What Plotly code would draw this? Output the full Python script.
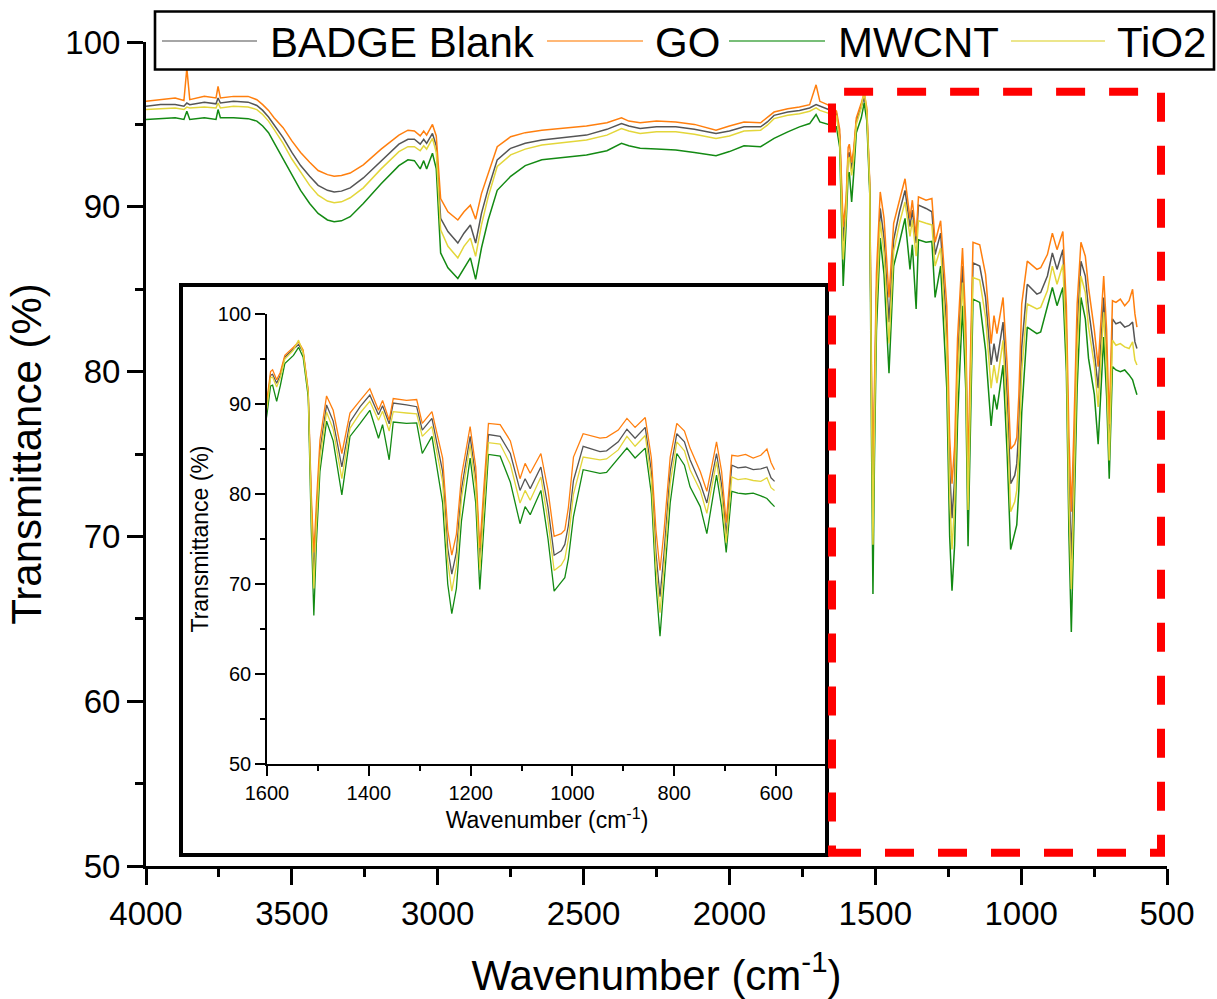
import plotly.graph_objects as go

# ---------------- data ----------------
wavenumber = [4000, 3950, 3900, 3870, 3860, 3850, 3800, 3760, 3753, 3745, 3700, 3650, 3620, 3600,
              3580, 3561, 3530, 3500, 3470, 3439, 3410, 3378, 3355, 3330, 3300, 3255, 3194, 3133,
              3102, 3080, 3060, 3048, 3038, 3018, 3005, 2990, 2965, 2931, 2910, 2888, 2870, 2850,
              2827, 2796, 2750, 2700, 2643, 2550, 2490, 2420, 2370, 2345, 2306, 2250, 2184, 2120,
              2046, 2000, 1950, 1893, 1870, 1847, 1800, 1760, 1725, 1703, 1690, 1664, 1645, 1633,
              1622, 1610, 1600, 1593, 1589, 1581, 1574, 1565, 1548, 1538, 1529, 1519, 1513, 1508,
              1503, 1496, 1483, 1470, 1453, 1437, 1417, 1398, 1381, 1373, 1360, 1352, 1326, 1306,
              1295, 1276, 1255, 1245, 1237, 1228, 1218, 1201, 1190, 1182, 1175, 1165, 1142, 1122,
              1103, 1093, 1083, 1062, 1048, 1036, 1022, 1015, 1008, 998, 979, 946, 933, 910, 893,
              877, 857, 845, 836, 828, 820, 808, 795, 780, 769, 749, 736, 725, 717, 707, 698, 687,
              675, 660, 645, 630, 618, 610, 603]

badge_blank = [96.1, 96.2, 96.2, 96.1, 96.3, 96.2, 96.35, 96.25, 96.6, 96.3, 96.4, 96.35, 96.15, 95.85,
               95.45, 95.0, 94.2, 93.3, 92.5, 91.85, 91.3, 91.0, 90.9, 90.95, 91.15, 91.75, 92.8, 93.8,
               94.1, 94.1, 93.8, 94.1, 93.85, 94.45, 93.7, 89.3, 88.5, 87.8, 88.4, 88.9, 87.8, 89.6,
               91.1, 92.85, 93.55, 93.85, 94.05, 94.25, 94.35, 94.7, 95.05, 94.9, 94.75, 94.85, 94.85, 94.7,
               94.45, 94.6, 94.85, 94.85, 95.15, 95.55, 95.75, 95.85, 96.0, 96.2, 96.1, 95.9, 95.8, 95.65,
               94.3, 87.9, 90.0, 93.2, 93.3, 92.3, 93.2, 95.2, 96.1, 96.6, 95.8, 91.3, 79.0, 71.0,
               77.5, 84.8, 89.9, 88.1, 83.0, 88.0, 89.7, 91.0, 88.8, 89.8, 87.8, 90.1, 89.9, 89.7,
               87.1, 88.4, 82.5, 74.0, 71.1, 73.5, 80.5, 86.4, 81.8, 72.8, 78.5, 86.6, 86.4, 84.5,
               80.4, 81.7, 80.6, 83.0, 78.5, 73.2, 73.7, 74.4, 76.5, 81.5, 85.3, 84.7, 84.8, 85.8, 87.2,
               86.2, 87.4, 82.5, 73.5, 68.6, 73.5, 82.5, 86.7, 85.8, 83.8, 81.2, 79.0, 82.0, 84.5, 81.0, 75.5, 83.2,
               82.9, 83.0, 82.7, 82.8, 83.0, 81.8, 81.4]

go_ = [96.4, 96.5, 96.6, 96.45, 98.4, 96.5, 96.7, 96.6, 97.3, 96.6, 96.7, 96.7, 96.5, 96.2,
       95.85, 95.4, 94.8, 94.0, 93.3, 92.7, 92.2, 91.95, 91.85, 91.9, 92.05, 92.55, 93.5, 94.35,
       94.65, 94.6, 94.3, 94.6, 94.35, 95.0, 94.3, 90.5, 89.7, 89.2, 89.7, 90.1, 89.25, 90.8,
       92.0, 93.65, 94.25, 94.5, 94.65, 94.8, 94.9, 95.1, 95.4, 95.2, 95.1, 95.2, 95.15, 95.0,
       94.65, 94.9, 95.15, 95.1, 95.4, 95.75, 95.95, 96.05, 96.2, 97.4, 96.4, 96.2, 96.0, 95.8,
       94.7, 88.8, 90.5, 93.6, 93.8, 92.7, 93.5, 95.4, 96.3, 96.9, 96.0, 91.5, 80.0, 73.5,
       79.0, 86.0, 90.9, 89.3, 84.5, 89.0, 90.4, 91.7, 89.3, 90.4, 88.2, 90.6, 90.4, 90.5,
       87.85, 89.15, 84.0, 76.0, 73.2, 75.5, 82.0, 87.5, 83.0, 74.0, 80.0, 87.85, 87.7, 85.9,
       81.7, 83.4, 82.3, 84.5, 80.4, 75.3, 75.6, 76.0, 78.5, 84.1, 86.7, 86.2, 86.3, 87.1, 88.4,
       87.4, 88.5, 84.0, 76.0, 71.5, 76.0, 84.1, 87.85, 87.0, 85.1, 82.5, 80.3, 83.5, 85.8, 82.5, 76.8, 84.3,
       84.2, 84.4, 84.0, 84.3, 85.0, 83.5, 82.7]

mwcnt = [95.3, 95.35, 95.4, 95.3, 95.8, 95.3, 95.4, 95.3, 95.9, 95.4, 95.4, 95.35, 95.2, 94.9,
         94.5, 93.9, 92.9, 91.9, 91.0, 90.2, 89.6, 89.2, 89.1, 89.15, 89.4, 90.2, 91.4, 92.5,
         92.85, 92.8, 92.3, 92.8, 92.3, 93.25, 92.3, 87.2, 86.3, 85.65, 86.3, 86.9, 85.6, 87.5,
         89.2, 91.0, 91.85, 92.5, 92.85, 93.05, 93.15, 93.4, 93.85, 93.7, 93.55, 93.5, 93.45, 93.3,
         93.1, 93.35, 93.7, 93.65, 93.9, 94.15, 94.55, 94.85, 95.05, 95.6, 95.15, 95.0, 94.9, 94.85,
         93.6, 85.2, 88.9, 92.0, 92.1, 90.3, 92.0, 94.5, 95.4, 96.3, 95.2, 90.8, 76.0, 66.5,
         74.5, 82.5, 88.1, 85.9, 79.9, 86.4, 87.85, 89.3, 86.2, 87.7, 83.8, 88.0, 87.85, 87.9,
         84.5, 86.4, 79.0, 70.0, 66.7, 69.5, 77.0, 84.0, 79.0, 69.4, 75.5, 84.4, 84.2, 81.3,
         76.7, 78.6, 77.7, 80.4, 75.0, 69.2, 70.2, 70.7, 72.8, 77.5, 82.7, 82.3, 82.4, 84.0, 85.1,
         84.0, 85.1, 80.0, 70.0, 64.2, 70.0, 79.0, 84.5, 83.2, 80.8, 78.6, 75.6, 79.5, 82.1, 78.5, 73.5, 80.3,
         80.1, 80.0, 80.1, 79.8, 79.5, 79.0, 78.6]

tio2 = [95.9, 95.95, 96.0, 95.9, 96.05, 96.0, 96.05, 96.0, 96.3, 96.0, 96.1, 96.05, 95.9, 95.6,
        95.2, 94.7, 93.85, 92.9, 92.1, 91.3, 90.7, 90.35, 90.25, 90.3, 90.55, 91.15, 92.3, 93.35,
        93.65, 93.65, 93.4, 93.7, 93.5, 94.15, 93.3, 88.6, 87.6, 86.9, 87.6, 88.1, 87.0, 88.9,
        90.6, 92.45, 93.15, 93.5, 93.75, 93.95, 94.05, 94.35, 94.75, 94.6, 94.45, 94.55, 94.55, 94.4,
        94.15, 94.3, 94.6, 94.65, 94.95, 95.35, 95.55, 95.65, 95.8, 96.0, 95.85, 95.7, 95.6, 95.5,
        94.0, 86.8, 89.6, 92.9, 93.0, 91.9, 92.9, 95.0, 96.0, 97.1, 95.7, 91.2, 78.0, 69.5,
        76.5, 84.0, 89.1, 87.2, 81.7, 87.3, 89.0, 90.3, 88.2, 89.2, 87.0, 89.15, 89.0, 88.9,
        86.4, 87.5, 81.3, 72.5, 69.2, 72.0, 79.5, 85.4, 80.8, 71.6, 77.5, 85.7, 85.55, 83.3,
        79.0, 80.4, 79.3, 81.9, 77.0, 71.5, 72.1, 72.8, 75.0, 80.0, 84.1, 83.8, 83.9, 84.9, 86.4,
        85.3, 86.5, 81.5, 72.0, 66.8, 72.0, 81.2, 85.8, 84.8, 82.7, 80.4, 77.85, 81.0, 83.6, 80.0, 74.6, 81.9,
        81.6, 81.7, 81.5, 81.4, 81.8, 80.7, 80.4]

series_names = ["BADGE Blank", "GO", "MWCNT", "TiO2"]
series_values = [badge_blank, go_, mwcnt, tio2]
series_colors = ["#555555", "#FF7F0E", "#138A13", "#E3D63A"]
legend_colors = ["#A6A6A6", "#FFB877", "#78BE78", "#ECE68C"]

main_xticks = [4000, 3500, 3000, 2500, 2000, 1500, 1000, 500]
inset_xticks = [1600, 1400, 1200, 1000, 800, 600]
y_ticks = [50, 60, 70, 80, 90, 100]

FONT = "Liberation Sans, Arial, sans-serif"

fig = go.Figure()
for name, vals, col in zip(series_names, series_values, series_colors):
    fig.add_trace(go.Scatter(x=wavenumber, y=vals, name=name, mode="lines",
                             line=dict(color=col, width=1.5), xaxis="x", yaxis="y"))
for name, vals, col in zip(series_names, series_values, series_colors):
    fig.add_trace(go.Scatter(x=wavenumber, y=vals, name=name, mode="lines",
                             line=dict(color=col, width=1.3), xaxis="x2", yaxis="y2"))

W, H = 1217, 999
L, R, T, B = 146, 50, 42, 133
pw, ph = W - L - R, H - T - B


def px_x(p):
    return (p - L) / pw


def px_y(p):
    return (H - B - p) / ph


axis_main = dict(showline=True, linecolor="black", linewidth=3, ticks="outside", ticklen=16,
                 tickwidth=3, tickcolor="black", showgrid=False, zeroline=False, mirror=False,
                 tickfont=dict(family=FONT, size=33, color="black"))
axis_inset = dict(showline=True, linecolor="black", linewidth=1.6, ticks="outside", ticklen=10,
                  tickwidth=1.6, tickcolor="black", showgrid=False, zeroline=False, mirror=False,
                  tickfont=dict(family=FONT, size=20, color="black"))

fig.update_layout(
    width=W, height=H,
    margin=dict(l=L, r=R, t=T, b=B, autoexpand=False),
    paper_bgcolor="white", plot_bgcolor="rgba(0,0,0,0)",
    font=dict(family=FONT, color="black"),
    showlegend=False,
    xaxis=dict(axis_main, range=[4000, 500], tickvals=main_xticks,
               minor=dict(ticks="outside", ticklen=8, tickwidth=3, tickcolor="black", dtick=250, tick0=500),
               title=dict(text="Wavenumber (cm<sup>-1</sup>)", font=dict(family=FONT, size=42), standoff=32),
               domain=[0, 1], anchor="y"),
    yaxis=dict(axis_main, range=[50, 100], tickvals=y_ticks,
               minor=dict(ticks="outside", ticklen=8, tickwidth=3, tickcolor="black", dtick=5, tick0=50),
               title=dict(text="Transmittance (%)", font=dict(family=FONT, size=42), standoff=11),
               domain=[0, 1], anchor="x"),
    xaxis2=dict(axis_inset, range=[1600, 500], tickvals=inset_xticks,
                minor=dict(ticks="outside", ticklen=5, tickwidth=1.6, tickcolor="black", dtick=100, tick0=500),
                title=dict(text="Wavenumber (cm<sup>-1</sup>)", font=dict(family=FONT, size=23), standoff=8),
                domain=[px_x(267), px_x(827)], anchor="y2"),
    yaxis2=dict(axis_inset, range=[50, 100], tickvals=y_ticks,
                minor=dict(ticks="outside", ticklen=5, tickwidth=1.6, tickcolor="black", dtick=5, tick0=50),
                title=dict(text="Transmittance (%)", font=dict(family=FONT, size=23), standoff=3),
                domain=[px_y(764), px_y(314)], anchor="x2"),
)

# inset frame
fig.add_shape(type="rect", xref="paper", yref="paper",
              x0=px_x(181), x1=px_x(827), y0=px_y(855), y1=px_y(285),
              line=dict(color="black", width=4), fillcolor="rgba(0,0,0,0)", layer="above")
# red dashed zoom frame
fig.add_shape(type="rect", xref="paper", yref="paper",
              x0=px_x(832), x1=px_x(1161), y0=px_y(852.8), y1=px_y(91.7),
              line=dict(color="#FF0000", width=8, dash="29px,24px"),
              fillcolor="rgba(0,0,0,0)", layer="above")

# legend box (one row, framed, at the top)
fig.add_shape(type="rect", xref="paper", yref="paper",
              x0=px_x(155), x1=px_x(1214), y0=px_y(69.5), y1=px_y(11.5),
              line=dict(color="black", width=2.6), fillcolor="white", layer="above")
legend_line_px = [(162, 257), (547, 643), (729, 825), (1011, 1105)]
legend_text_px = [270, 655, 838, 1117]
for name, col, (a, b), tx in zip(series_names, legend_colors, legend_line_px, legend_text_px):
    fig.add_shape(type="line", xref="paper", yref="paper",
                  x0=px_x(a), x1=px_x(b), y0=px_y(41), y1=px_y(41),
                  line=dict(color=col, width=2.2), layer="above")
    fig.add_annotation(text=name, xref="paper", yref="paper", x=px_x(tx - 2), y=px_y(42),
                       xanchor="left", yanchor="middle", showarrow=False,
                       font=dict(family=FONT, size=42, color="black"))

fig.write_html("out.html")
